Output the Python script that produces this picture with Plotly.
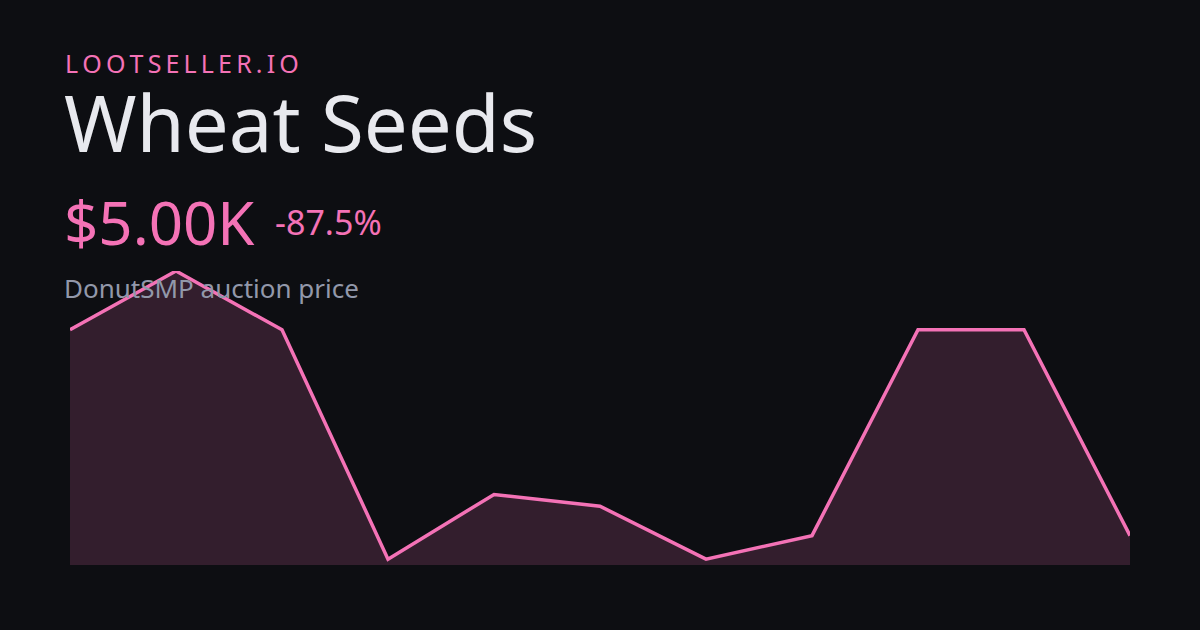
import plotly.graph_objects as go

# Data (price in thousands of $)
points = list(range(11))
prices_k = [40, 50, 40, 1, 12, 10, 1, 5, 40, 40, 5]

brand = "LOOTSELLER.IO"
item_name = "Wheat Seeds"
price_label = "$5.00K"
change_label = "-87.5%"
subtitle = "DonutSMP auction price"

BG = "#0d0e12"
PINK = "#f472b6"
FONT = "Noto Sans"

W, H = 1200, 630
L, R, T, B = 70, 70, 271, 65
plot_h = H - T - B
plot_w = W - L - R


def px(x):
    return (x - L) / plot_w


def py(y):
    return (H - B - y) / plot_h


fig = go.Figure()
fig.add_trace(go.Scatter(
    x=points, y=prices_k, mode="lines",
    line=dict(color=PINK, width=3.5, shape="linear"),
    fill="tozeroy", fillcolor="rgba(244,114,182,0.17)",
    cliponaxis=False, hoverinfo="skip",
))

spaced_brand = "\u2009".join(brand)

annotations = [
    dict(text=spaced_brand, x=px(63), y=py(63), font=dict(family=FONT, size=25, color=PINK)),
    dict(text=item_name, x=px(62), y=py(122), font=dict(family=FONT, size=78, color="#e8e9ee")),
    dict(text=price_label, x=px(62), y=py(222), font=dict(family=FONT, size=60, color=PINK)),
    dict(text=change_label, x=px(273), y=py(222), font=dict(family=FONT, size=34, color=PINK)),
    dict(text=subtitle, x=px(62), y=py(288), font=dict(family=FONT, size=26, color="#9298aa")),
]
for a in annotations:
    a.update(xref="paper", yref="paper", xanchor="left", yanchor="middle", showarrow=False)

fig.update_layout(
    width=W, height=H,
    margin=dict(l=L, r=R, t=T, b=B, pad=0),
    paper_bgcolor=BG, plot_bgcolor=BG,
    showlegend=False,
    xaxis=dict(range=[0, 10], visible=False, fixedrange=True),
    yaxis=dict(range=[0, 50], visible=False, fixedrange=True),
    annotations=annotations,
)

fig.write_html(
    "out.html",
    config={"displayModeBar": False},
    post_script="document.body.style.margin='0';document.body.style.background='#0d0e12';",
)
